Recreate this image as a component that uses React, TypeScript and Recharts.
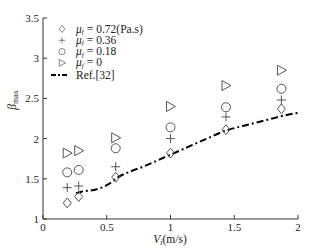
import { ComposedChart, Line, Scatter, XAxis, YAxis } from 'recharts';

const velocities = [0.19, 0.28, 0.57, 1.0, 1.435, 1.87];
const mu072 = [1.2, 1.28, 1.52, 1.82, 2.11, 2.37];
const mu036 = [1.39, 1.41, 1.65, 2.0, 2.27, 2.48];
const mu018 = [1.58, 1.61, 1.88, 2.14, 2.39, 2.62];
const mu0 = [1.82, 1.85, 2.01, 2.4, 2.66, 2.85];

const refX = [0.26, 0.3, 0.4, 0.5, 0.6, 0.7, 0.8, 0.9, 1.0, 1.1, 1.2, 1.3, 1.4, 1.5, 1.6, 1.7, 1.8, 1.9, 2.0];
const refY = [1.32, 1.34, 1.36, 1.42, 1.53, 1.6, 1.66, 1.73, 1.8, 1.87, 1.94, 2.01, 2.08, 2.13, 2.17, 2.21, 2.25, 2.29, 2.32];

const xTicks = [0, 0.5, 1, 1.5, 2];
const yTicks = [1, 1.5, 2, 2.5, 3, 3.5];

const toPts = (ys: number[]) => velocities.map((v, i) => ({ v, b: ys[i] }));
const refData = refX.map((v, i) => ({ v, ref: refY[i] }));

const MARK = '#555';
const AXIS = '#333';
const FONT = "'Liberation Serif', 'DejaVu Serif', serif";

const Diamond = ({ cx, cy }: any) => (
  <polygon points={`${cx},${cy - 5} ${cx + 4},${cy} ${cx},${cy + 5} ${cx - 4},${cy}`} fill="none" stroke={MARK} />
);
const Plus = ({ cx, cy }: any) => (
  <path d={`M${cx - 4.5},${cy}H${cx + 4.5}M${cx},${cy - 4.5}V${cy + 4.5}`} stroke={MARK} fill="none" />
);
const Circle = ({ cx, cy }: any) => <circle cx={cx} cy={cy} r={4.5} fill="none" stroke={MARK} />;
const Tri = ({ cx, cy }: any) => (
  <polygon points={`${cx - 4},${cy - 5} ${cx + 5},${cy} ${cx - 4},${cy + 5}`} fill="none" stroke={MARK} />
);

const legendRows = ['0.72(Pa.s)', '0.36', '0.18', '0'];
const legendIcons = [Diamond, Plus, Circle, Tri];

export default function App() {
  const tickStyle = { fontFamily: FONT, fontSize: 11, fill: '#222', style: { fontFamily: FONT } };
  return (
    <div style={{ position: 'absolute', left: 0, top: 0, width: 329, height: 248, background: '#fff', fontFamily: FONT }}>
      <ComposedChart width={329} height={248} data={refData} margin={{ top: 18, right: 31, bottom: 9, left: 8 }}>
        <XAxis
          xAxisId="b"
          dataKey="v"
          type="number"
          domain={[0, 2]}
          ticks={xTicks}
          height={20}
          tickSize={-4}
          tickMargin={8}
          stroke={AXIS}
          tick={tickStyle}
        />
        <XAxis
          xAxisId="t"
          orientation="top"
          dataKey="v"
          type="number"
          domain={[0, 2]}
          ticks={xTicks}
          height={0}
          tickSize={-4}
          stroke={AXIS}
          tickFormatter={() => ''}
        />
        <YAxis
          yAxisId="l"
          type="number"
          domain={[1, 3.5]}
          ticks={yTicks}
          width={35}
          tickSize={-4}
          tickMargin={8}
          stroke={AXIS}
          tick={tickStyle}
        />
        <YAxis
          yAxisId="r"
          orientation="right"
          type="number"
          domain={[1, 3.5]}
          ticks={yTicks}
          width={0}
          tickSize={-4}
          stroke={AXIS}
          tickFormatter={() => ''}
        />
        <Line
          xAxisId="b"
          yAxisId="l"
          dataKey="ref"
          type="monotone"
          stroke="#000"
          strokeWidth={2}
          strokeDasharray="7 3 2 3"
          dot={false}
          isAnimationActive={false}
        />
        <Scatter xAxisId="b" yAxisId="l" data={toPts(mu072)} dataKey="b" shape={Diamond} isAnimationActive={false} />
        <Scatter xAxisId="b" yAxisId="l" data={toPts(mu036)} dataKey="b" shape={Plus} isAnimationActive={false} />
        <Scatter xAxisId="b" yAxisId="l" data={toPts(mu018)} dataKey="b" shape={Circle} isAnimationActive={false} />
        <Scatter xAxisId="b" yAxisId="l" data={toPts(mu0)} dataKey="b" shape={Tri} isAnimationActive={false} />
      </ComposedChart>
      <svg width={329} height={248} style={{ position: 'absolute', left: 0, top: 0, pointerEvents: 'none' }}>
        <g style={{ fontFamily: FONT }} fontSize={11.5} fill="#222">
          {legendRows.map((val, i) => {
            const Icon = legendIcons[i];
            const y = 29 + i * 11.3;
            return (
              <g key={val}>
                <g transform={`translate(62,${y}) scale(0.7) translate(-62,${-y})`}>
                  <Icon cx={62} cy={y} />
                </g>
                <text x={76} y={y + 3.5}>
                  <tspan fontStyle="italic">μ</tspan>
                  <tspan fontStyle="italic" fontSize={7} dy={1.5}>f</tspan>
                  <tspan dy={-1.5} dx={3}>=</tspan>
                  <tspan dx={3}>{val}</tspan>
                </text>
              </g>
            );
          })}
          <line x1={51} x2={68} y1={75} y2={75} stroke="#000" strokeWidth={2} strokeDasharray="5 2 2 2" />
          <text x={76} y={78.5}>Ref.[32]</text>
          <text x={170} y={243} textAnchor="middle">
            <tspan fontStyle="italic">V</tspan>
            <tspan fontSize={8} fontStyle="italic" dy={2}>i</tspan>
            <tspan dy={-2}>(m/s)</tspan>
          </text>
          <text transform="translate(16,100) rotate(-90)" textAnchor="middle">
            <tspan fontStyle="italic">β</tspan>
            <tspan fontSize={8} dy={2}>max</tspan>
          </text>
        </g>
      </svg>
    </div>
  );
}
